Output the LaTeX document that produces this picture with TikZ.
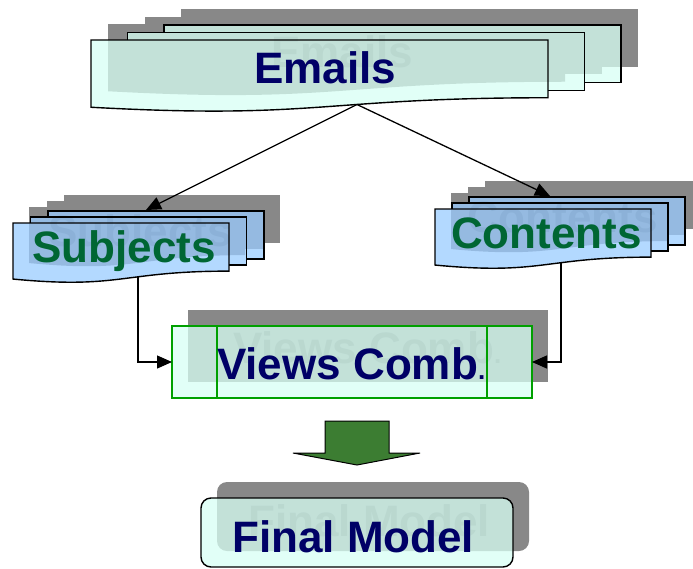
\documentclass[tikz,border=0pt]{standalone}
\usepackage{fontspec}
\setmainfont{Liberation Sans}
\usetikzlibrary{arrows.meta}
\definecolor{shadowgray}{RGB}{136,136,136}
\definecolor{ghostgray}{RGB}{100,100,100}
\definecolor{pagecyan}{RGB}{215,255,244}
\definecolor{pageblue}{RGB}{154,204,255}
\definecolor{navytext}{RGB}{0,0,102}
\definecolor{greentext}{RGB}{0,102,51}
\definecolor{boxgreen}{RGB}{0,160,0}
\definecolor{arrowgreen}{RGB}{60,125,50}
% document page path: x y w h
\newcommand\docpath[4]{(#1,#2) -- ({#1+#3},#2) -- ({#1+#3},{#2+0.802*#4}) .. controls ({#1+0.5*#3},{#2+0.802*#4}) and ({#1+0.5*#3},{#2+1.107*#4}) .. (#1,{#2+0.934*#4}) -- cycle}
% three pages: x y w h ox oy options
\newcommand\mdocfill[7]{%
  \path[#7] ({#1+2*#5},{#2-2*#6}) rectangle ++(#3,{0.802*#4});
  \path[#7] ({#1+#5},{#2-#6}) rectangle ++(#3,{0.802*#4});
  \path[#7] \docpath{#1}{#2}{#3}{#4};
}
\newcommand\mdocoutline[6]{%
  \draw[pageline] ({#1+2*#5},{#2-#6}) -- ({#1+2*#5},{#2-2*#6}) -- ({#1+2*#5+#3},{#2-2*#6}) -- ({#1+2*#5+#3},{#2-2*#6+0.802*#4}) -- ({#1+#5+#3},{#2-2*#6+0.802*#4});
  \draw[pageline] ({#1+#5},{#2}) -- ({#1+#5},{#2-#6}) -- ({#1+#5+#3},{#2-#6}) -- ({#1+#5+#3},{#2-#6+0.802*#4}) -- ({#1+#3},{#2-#6+0.802*#4});
  \draw[pageline] \docpath{#1}{#2}{#3}{#4};
}
\tikzset{
  pageline/.style={draw=black, line width=1.4pt, line join=miter},
  label/.style={anchor=base west, inner sep=0pt, font=\fontsize{44}{48}\selectfont\bfseries},
  ghost/.style={label, text=ghostgray},
  conn/.style={draw=black, line width=1.3pt, -{Triangle[length=15pt,width=13pt]}},
}
\begin{document}
\begin{tikzpicture}[x=1pt, y=-1pt]
\useasboundingbox (0,0) rectangle (693,568);
% ---------- shadows ----------
\begin{scope}[shift={(17,-16)}]
  \mdocfill{91}{40}{457}{72}{36.5}{7.5}{fill=shadowgray}
  \node[ghost] (emailsghost) at (254,83) {Emails};
\end{scope}
\begin{scope}[shift={(16,-16)}]
  \mdocfill{13}{223}{216}{60}{17.5}{6}{fill=shadowgray}
  \node[ghost] (subjghost) at (32,262) {Subjects};
  \mdocfill{435}{209}{216}{60}{17}{6}{fill=shadowgray}
  \node[ghost] (contghost) at (451,248) {Contents};
  \fill[shadowgray] (172,326) rectangle (532,398);
  \node[ghost] (viewsghost) at (217,379) {Views Comb{\fontsize{26}{30}\selectfont.}};
  \fill[shadowgray, rounded corners=10pt] (201,498) rectangle (513,567);
  \node[ghost] (finalghost) at (232,552) {Final Model};
\end{scope}
% ---------- translucent fills ----------
\begin{scope}[transparency group, opacity=0.75]
  \mdocfill{91}{40}{457}{72}{36.5}{7.5}{fill=pagecyan}
  \mdocfill{13}{223}{216}{60}{17.5}{6}{fill=pageblue}
  \mdocfill{435}{209}{216}{60}{17}{6}{fill=pageblue}
  \fill[pagecyan] (172,326) rectangle (532,398);
  \fill[pagecyan, rounded corners=10pt] (201,498) rectangle (513,567);
\end{scope}
% ---------- outlines ----------
\mdocoutline{91}{40}{457}{72}{36.5}{7.5}
\mdocoutline{13}{223}{216}{60}{17.5}{6}
\mdocoutline{435}{209}{216}{60}{17}{6}
\draw[boxgreen, line width=2pt] (172,326) rectangle (532,398);
\draw[boxgreen, line width=2pt] (217,326) -- (217,398);
\draw[boxgreen, line width=2pt] (487,326) -- (487,398);
\draw[black, line width=1.4pt, rounded corners=10pt] (201,498) rectangle (513,567);
% ---------- labels ----------
\node[label, text=navytext] (emails) at (254,83) {Emails};
\node[label, text=greentext] (subjects) at (32,262) {Subjects};
\node[label, text=greentext] (contents) at (451,248) {Contents};
\node[label, text=navytext] (views) at (217,379) {Views Comb{\fontsize{26}{30}\selectfont.}};
\node[label, text=navytext] (final) at (232,552) {Final Model};
% ---------- connector anchors ----------
\coordinate (emailsB) at (357,104.5);
\coordinate (subjT) at (146,210);
\coordinate (contT) at (550,196);
\coordinate (subjB) at (138,277);
\coordinate (contB) at (561,263);
\coordinate (viewsL) at (172,362);
\coordinate (viewsR) at (532,362);
\draw[conn] (emailsB) -- (subjT);
\draw[conn] (emailsB) -- (contT);
\draw[conn] (subjB) |- (viewsL);
\draw[conn] (contB) |- (viewsR);
% ---------- block arrow ----------
\node[inner sep=0pt, minimum size=0pt] (arrowtop) at (357,421) {};
\draw[fill=arrowgreen, draw=black, line width=1pt, line join=miter]
  (325,421) -- (389,421) -- (389,453) -- (420,453) -- (357,465) -- (293,453) -- (325,453) -- cycle;
\end{tikzpicture}
\end{document}
